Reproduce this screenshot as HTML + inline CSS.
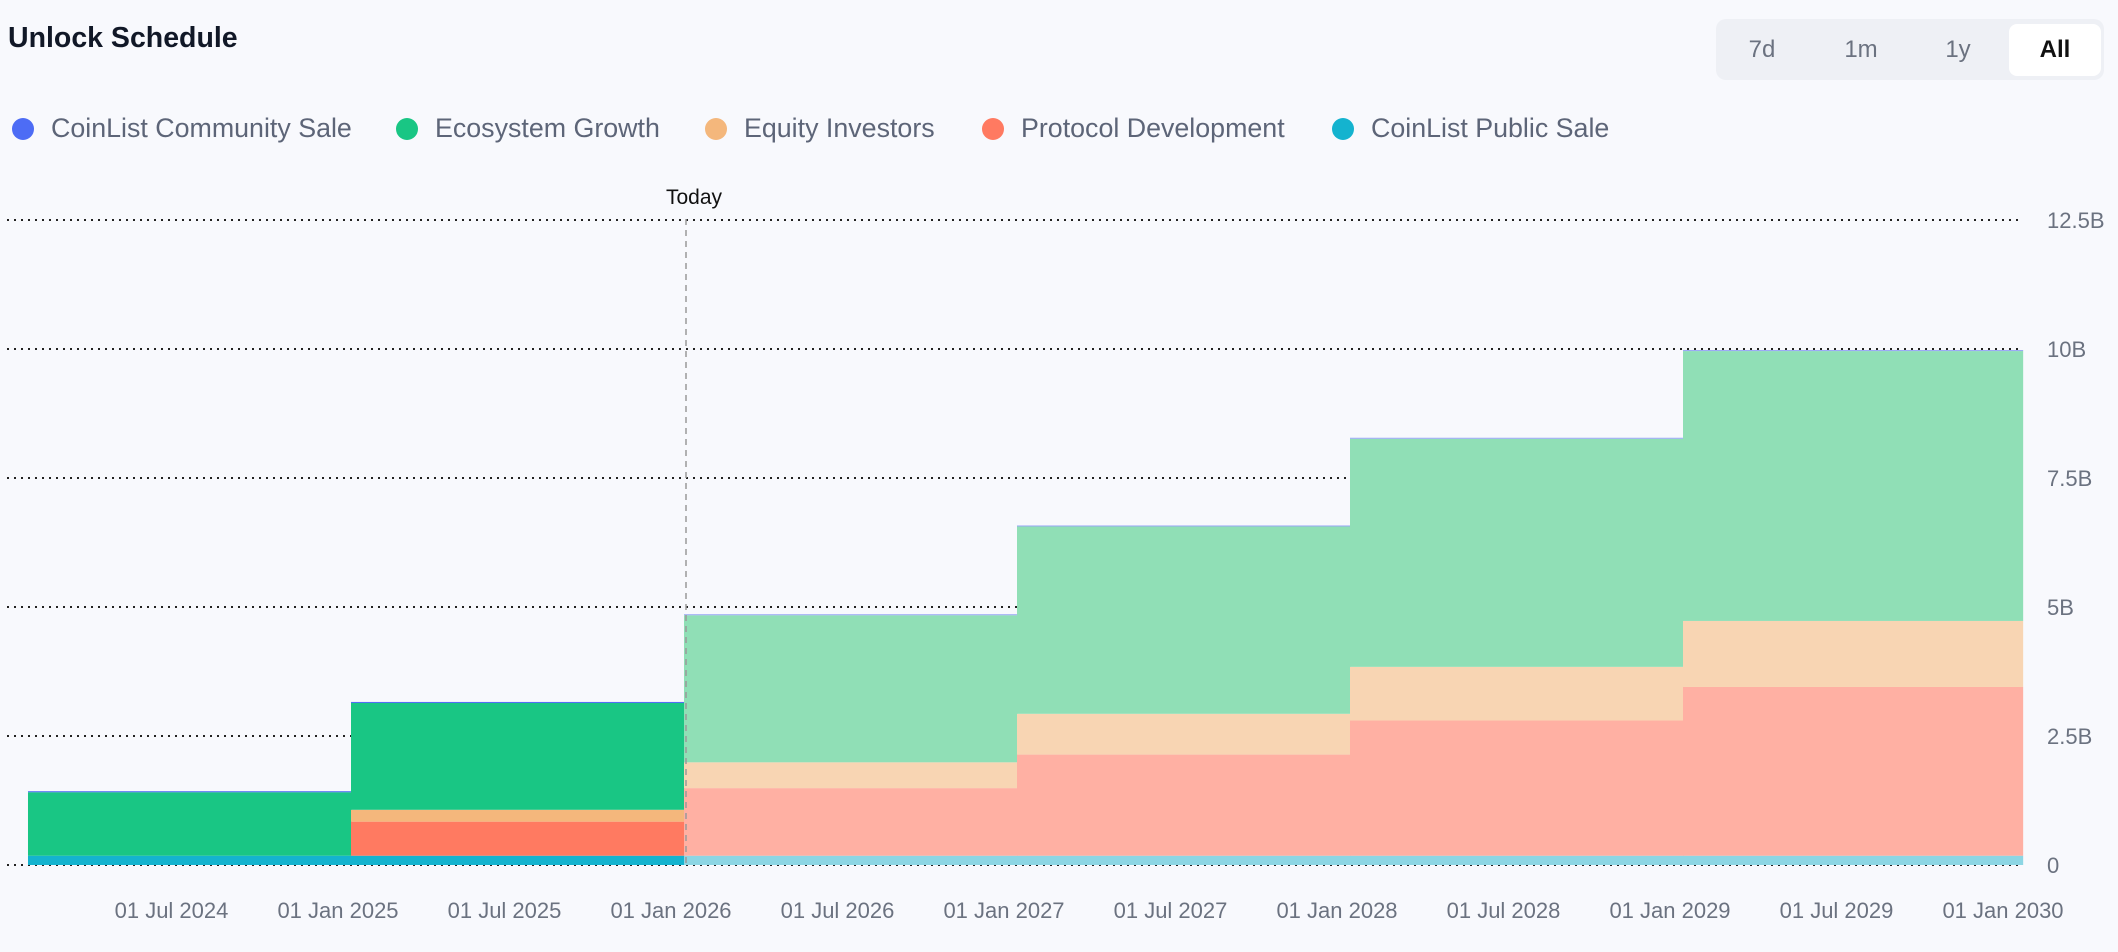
<!DOCTYPE html>
<html><head><meta charset="utf-8">
<style>
body{margin:0;background:#f8f9fd;font-family:"Liberation Sans",sans-serif;}
#wrap{position:relative;width:2118px;height:952px;overflow:hidden;background:#f8f9fd;}
.title{position:absolute;left:8px;top:22px;font-size:28.5px;font-weight:bold;color:#111827;}
.btns{position:absolute;left:1716px;top:19px;width:388px;height:61px;background:#eef0f5;border-radius:10px;}
.btn{position:absolute;top:5px;height:52px;line-height:52px;width:92px;text-align:center;font-size:24px;color:#6b7280;border-radius:8px;}
.btn.active{background:#fff;color:#111;font-weight:bold;}
.legend{position:absolute;top:111px;left:0;height:34px;}
.li{position:absolute;top:0;white-space:nowrap;font-size:26.8px;color:#5d6578;line-height:34px;}
.dot{display:inline-block;width:22px;height:22px;border-radius:50%;vertical-align:-3px;margin-right:17px;}
svg{position:absolute;left:0;top:0;}
</style></head><body>
<div id="wrap">
<div class="title">Unlock Schedule</div>
<div class="btns">
<div class="btn" style="left:0px">7d</div>
<div class="btn" style="left:99px">1m</div>
<div class="btn" style="left:196px">1y</div>
<div class="btn active" style="left:293px">All</div>
</div>
<div class="legend">
<div class="li" style="left:12px"><span class="dot" style="background:#4d6cf5"></span>CoinList Community Sale</div>
<div class="li" style="left:396px"><span class="dot" style="background:#19c684"></span>Ecosystem Growth</div>
<div class="li" style="left:705px"><span class="dot" style="background:#f4b77c"></span>Equity Investors</div>
<div class="li" style="left:982px"><span class="dot" style="background:#ff7a61"></span>Protocol Development</div>
<div class="li" style="left:1332px"><span class="dot" style="background:#14b3cf"></span>CoinList Public Sale</div>
</div>
<svg id="chart" width="2118" height="952"></svg>
</div>
<script>
// period boundaries (decimal years)
const periodStarts = [2024.03, 2025, 2026, 2027, 2028, 2029];
const periodEnd = 2030.02;
const publicSale = [0.18, 0.18, 0.18, 0.18, 0.18, 0.18];
const protocolDev = [0, 0.66, 1.31, 1.96, 2.62, 3.27];
const equityInv = [0, 0.23, 0.50, 0.79, 1.04, 1.28];
const ecosystem = [1.23, 2.07, 2.85, 3.63, 4.42, 5.23];
const communitySale = [0.02, 0.02, 0.02, 0.02, 0.02, 0.02];
const yTicks = [0, 2.5, 5, 7.5, 10, 12.5];
const yTickLabels = ["0", "2.5B", "5B", "7.5B", "10B", "12.5B"];
const xTicks = [2024.5, 2025, 2025.5, 2026, 2026.5, 2027, 2027.5, 2028, 2028.5, 2029, 2029.5, 2030];
const xTickLabels = ["01 Jul 2024","01 Jan 2025","01 Jul 2025","01 Jan 2026","01 Jul 2026","01 Jan 2027","01 Jul 2027","01 Jan 2028","01 Jul 2028","01 Jan 2029","01 Jul 2029","01 Jan 2030"];
const todayYear = 2026;

const svg = document.getElementById('chart');
const NS = 'http://www.w3.org/2000/svg';
const X = t => 351 + (t - 2025) * 333;
const Y = v => 865 - v * (645 / 12.5);
function mk(tag, attrs){const e=document.createElementNS(NS,tag);for(const k in attrs)e.setAttribute(k,attrs[k]);svg.appendChild(e);return e;}

yTicks.forEach((v,i)=>{
  const g = mk('line',{x1:7,x2:2022,y1:Y(v),y2:Y(v),stroke:'#222','stroke-width':2,'stroke-dasharray':'2 5'});
  
  
  const t = mk('text',{x:2047,y:Y(v)+8,'font-size':22,fill:'#6b7280','font-family':'Liberation Sans, sans-serif'});
  t.textContent = yTickLabels[i];
  
  
});
xTicks.forEach((v,i)=>{
  const t = mk('text',{x:X(v)-13,y:918,'font-size':22,fill:'#6b7280','text-anchor':'middle','font-family':'Liberation Sans, sans-serif'});
  t.textContent = xTickLabels[i];
  
  
});

const series = [
  {vals:publicSale, past:'#14b3cf', fut:'#8dd6e4', name:'public-sale'},
  {vals:protocolDev, past:'#ff7a61', fut:'#ffb0a3', name:'protocol-development'},
  {vals:equityInv, past:'#f4b77c', fut:'#f8d5b3', name:'equity-investors'},
  {vals:ecosystem, past:'#19c684', fut:'#90dfb6', name:'ecosystem-growth'},
  {vals:communitySale, past:'#4d6cf5', fut:'#9aa8f5', name:'community-sale'}
];
for(let p=0;p<periodStarts.length;p++){
  const x0 = X(periodStarts[p]);
  const x1 = X(p+1<periodStarts.length?periodStarts[p+1]:periodEnd);
  let base = 0;
  series.forEach(s=>{
    const v = s.vals[p];
    if(v<=0) return;
    const fut = periodStarts[p] >= todayYear;
    const r = mk('rect',{x:x0,y:Y(base+v),width:x1-x0+0.5,height:Y(base)-Y(base+v),fill:fut?s.fut:s.past});
    
    
    base += v;
  });
}
const tl = mk('line',{x1:X(todayYear)+2,x2:X(todayYear)+2,y1:219,y2:865,stroke:'#999','stroke-width':1.5,'stroke-dasharray':'6 5'});


const tt = mk('text',{x:X(todayYear)+10,y:204,'font-size':21,fill:'#111','text-anchor':'middle','font-family':'Liberation Sans, sans-serif'});
tt.textContent='Today';


</script>
</body></html>
